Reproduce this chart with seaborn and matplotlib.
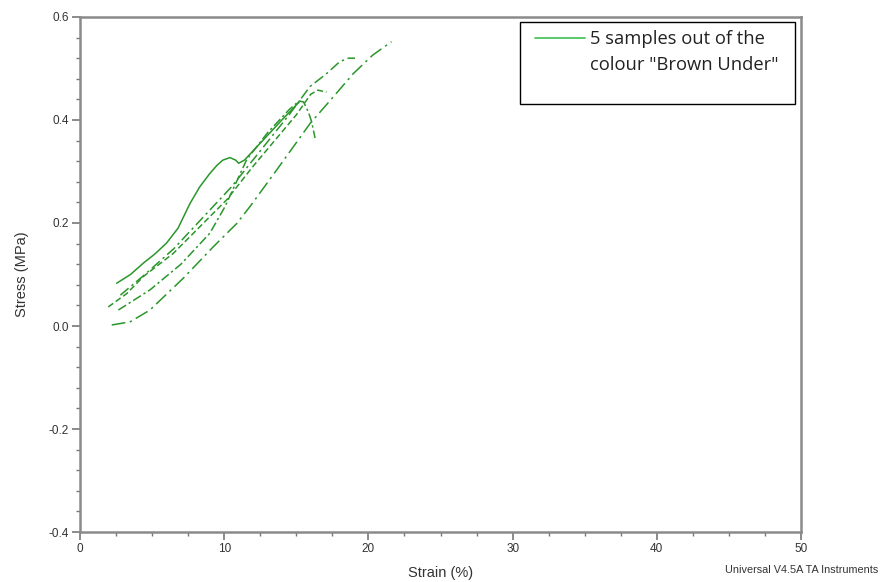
import numpy as np
import pandas as pd
import seaborn as sns
import matplotlib.pyplot as plt
from matplotlib.patches import Rectangle
from matplotlib.ticker import MultipleLocator

# strain (%) / stress (MPa), five samples
s1_x = [2.54, 3.5, 4.39, 5.2, 6.0, 6.8, 7.63, 8.3, 9.0, 9.5, 9.9, 10.4, 10.8, 11.0, 11.4, 12.5, 14.0, 15.2]
s1_y = [0.083, 0.10, 0.122, 0.14, 0.161, 0.19, 0.238, 0.27, 0.296, 0.312, 0.322, 0.327, 0.322, 0.316, 0.322, 0.355, 0.40, 0.435]

s2_x = [1.96, 3.24, 4.39, 6.47, 8.32, 10.17, 12.0, 13.5, 15.0, 16.0, 16.5, 17.1]
s2_y = [0.037, 0.063, 0.096, 0.141, 0.193, 0.245, 0.31, 0.36, 0.41, 0.45, 0.458, 0.454]

s3_x = [2.66, 4.85, 7.0, 9.0, 10.06, 11.56, 13.0, 14.5, 15.2, 15.5, 15.83, 16.06, 16.3]
s3_y = [0.031, 0.07, 0.12, 0.18, 0.232, 0.323, 0.375, 0.42, 0.437, 0.435, 0.416, 0.397, 0.365]

s4_x = [2.8, 4.5, 6.5, 8.5, 10.5, 12.5, 14.5, 15.95, 17.1, 18.0, 18.6, 19.07]
s4_y = [0.06, 0.10, 0.15, 0.21, 0.27, 0.34, 0.41, 0.465, 0.49, 0.513, 0.52, 0.52]

s5_x = [2.2, 3.47, 4.85, 7.17, 9.25, 10.87, 11.79, 13.64, 15.95, 17.57, 18.95, 20.3, 21.6]
s5_y = [0.002, 0.008, 0.031, 0.093, 0.154, 0.199, 0.232, 0.303, 0.393, 0.445, 0.49, 0.526, 0.552]

samples = [(s1_x, s1_y), (s2_x, s2_y), (s3_x, s3_y), (s4_x, s4_y), (s5_x, s5_y)]
dashes = [None, (4, 2), (6, 2, 1.5, 2), (7, 2.5, 1.5, 2.5), (9, 3, 1.5, 3)]

sns.set_style('white')
plt.rcParams['font.family'] = ['Liberation Sans', 'DejaVu Sans']

fig = plt.figure(figsize=(8.81, 5.82), dpi=100)
ax = fig.add_axes([0.0908, 0.0859, 0.8184, 0.8849])

green = '#2a962a'
for i, (xs, ys) in enumerate(samples):
    df = pd.DataFrame({'strain': xs, 'stress': ys})
    sns.lineplot(data=df, x='strain', y='stress', ax=ax, color=green,
                 lw=1.1, sort=False, estimator=None)
    if dashes[i] is not None:
        ax.lines[-1].set_dashes(dashes[i])

ax.set_xlim(0, 50)
ax.set_ylim(-0.4, 0.6)
ax.xaxis.set_major_locator(MultipleLocator(10))
ax.xaxis.set_minor_locator(MultipleLocator(2.5))
ax.yaxis.set_major_locator(MultipleLocator(0.2))
ax.yaxis.set_minor_locator(MultipleLocator(0.04))
ax.yaxis.set_major_formatter(plt.FuncFormatter(lambda v, p: f'{v:.1f}'))
ax.tick_params(which='major', direction='out', length=6, width=1.2,
               color='#777777', labelsize=8.5, labelcolor='#333333',
               left=True, bottom=True, pad=2)
ax.tick_params(which='minor', direction='out', length=3, width=1,
               color='#777777', left=True, bottom=True)
for sp in ax.spines.values():
    sp.set_color('#8a8a8a')
    sp.set_linewidth(1.8)

ax.set_xlabel('Strain (%)', fontsize=10.5, color='#333333', labelpad=8)
ax.set_ylabel('Stress (MPa)', fontsize=10.5, color='#333333', labelpad=14)

# legend box drawn by hand, the way the instrument software pastes it
ax.add_patch(Rectangle((0.610, 0.831), 0.382, 0.159, transform=ax.transAxes,
                       facecolor='white', edgecolor='black', lw=1.0, zorder=5))
ax.plot([0.631, 0.700], [0.959, 0.959], transform=ax.transAxes,
        color='#3cc050', lw=1.2, zorder=6)
ax.text(0.707, 0.957, '5 samples out of the', transform=ax.transAxes,
        ha='left', va='center', fontsize=13.2, family='Open Sans',
        color='#222222', zorder=6)
ax.text(0.707, 0.907, 'colour "Brown Under"', transform=ax.transAxes,
        ha='left', va='center', fontsize=13.2, family='Open Sans',
        color='#222222', zorder=6)

fig.text(0.997, 0.012, 'Universal V4.5A TA Instruments', ha='right',
         va='bottom', fontsize=7.8, color='#333333')

fig.savefig('out.png', dpi=100)
